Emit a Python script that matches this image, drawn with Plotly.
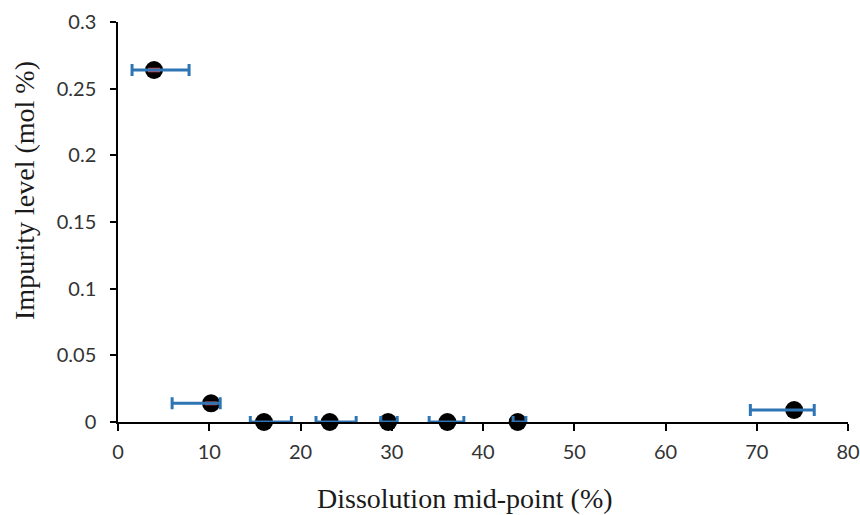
import plotly.graph_objects as go

# Data
x_mid = [3.95, 10.2, 16.0, 23.2, 29.6, 36.1, 43.8, 74.1]
impurity = [0.264, 0.014, 0.0, 0.0, 0.0, 0.0, 0.0, 0.009]
x_low = [1.54, 5.93, 14.5, 21.7, 28.8, 34.1, 43.3, 69.3]
x_high = [7.79, 11.2, 19.0, 26.1, 30.6, 37.9, 44.7, 76.3]
y_err = [0.001, 0.0006, 0.0, 0.0, 0.0, 0.0, 0.0, 0.0]

x_ticks = [0, 10, 20, 30, 40, 50, 60, 70, 80]
y_ticks = [0, 0.05, 0.1, 0.15, 0.2, 0.25, 0.3]
y_tick_text = ["0", "0.05", "0.1", "0.15", "0.2", "0.25", "0.3"]

x_title = "Dissolution mid-point (%)"
y_title = "Impurity level (mol %)"

err_plus = [h - m for h, m in zip(x_high, x_mid)]
err_minus = [m - l for m, l in zip(x_mid, x_low)]

fig = go.Figure()
fig.add_trace(go.Scatter(
    x=x_mid, y=impurity, mode="markers",
    marker=dict(color="black", size=18),
    showlegend=False, cliponaxis=False,
))
fig.add_trace(go.Scatter(
    x=x_mid, y=impurity, mode="markers",
    marker=dict(color="rgba(0,0,0,0)", size=18),
    error_x=dict(type="data", symmetric=False, array=err_plus, arrayminus=err_minus,
                 color="#2E75B6", thickness=3, width=6),
    error_y=dict(type="data", array=y_err, color="#E8453C", thickness=2, width=6),
    showlegend=False, cliponaxis=False,
))

tick_font = dict(family="Lato, Open Sans, sans-serif", size=20, color="#333333")
title_font = dict(family="Liberation Serif, Times New Roman, serif", size=28, color="#1a1a1a")

fig.update_layout(
    width=860, height=515,
    margin=dict(l=118, r=12, t=22, b=93, autoexpand=False),
    plot_bgcolor="white", paper_bgcolor="white",
    xaxis=dict(
        range=[0, 80], tickvals=x_ticks, ticks="outside", ticklen=7, tickwidth=1.5,
        tickcolor="black", showline=True, linecolor="black", linewidth=1.5,
        showgrid=False, zeroline=False, tickfont=tick_font, automargin=False,
        ticklabelstandoff=4,
    ),
    yaxis=dict(
        range=[0, 0.3], tickvals=y_ticks, ticktext=y_tick_text, ticks="outside",
        ticklen=6, tickwidth=1.5, tickcolor="black", showline=True, linecolor="black",
        linewidth=1.5, showgrid=False, zeroline=False, tickfont=tick_font, automargin=False,
        ticklabelstandoff=10,
    ),
    annotations=[
        dict(text=x_title, xref="paper", yref="paper", x=0.475, y=-0.19,
             xanchor="center", yanchor="middle", showarrow=False, font=title_font),
        dict(text=y_title, xref="paper", yref="paper", x=-0.1288, y=0.58,
             xanchor="center", yanchor="middle", showarrow=False, font=title_font,
             textangle=-90),
    ],
)

fig.write_html(
    "out.html",
    config={"displayModeBar": False},
    post_script="document.body.style.margin='0';document.body.style.overflow='hidden';",
)
